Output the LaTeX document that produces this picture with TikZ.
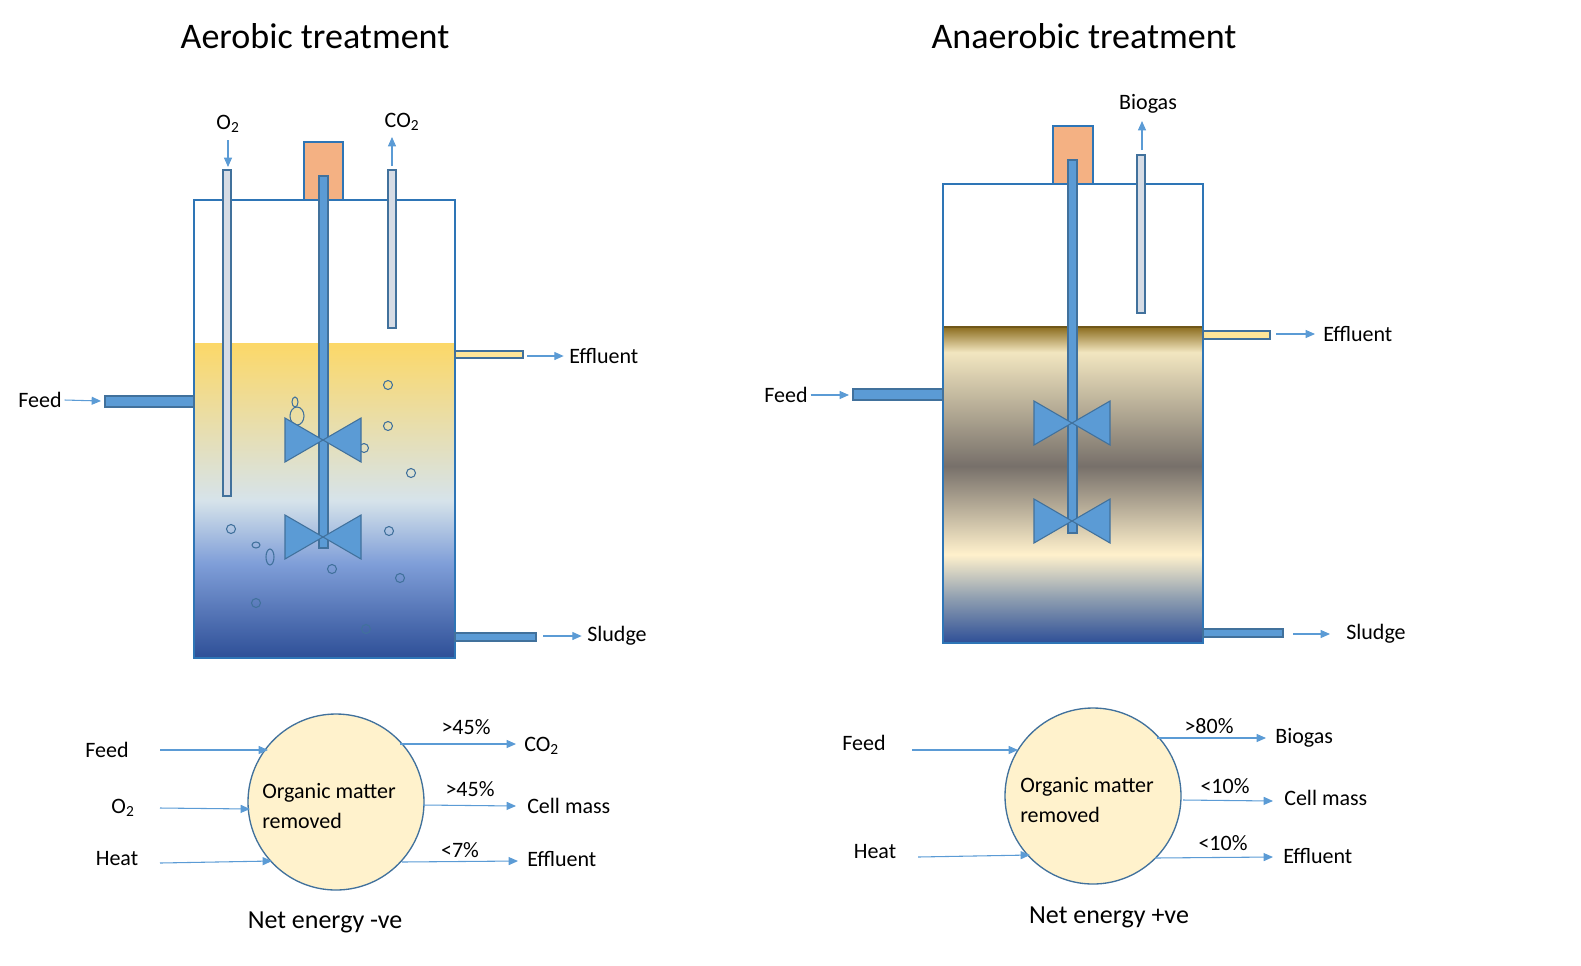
\documentclass[tikz,border=0pt]{standalone}
\usepackage{fontspec}
\setmainfont{Carlito}
\usetikzlibrary{arrows.meta}
\definecolor{pblue}{HTML}{5B9BD5}
\definecolor{dblue}{HTML}{2E75B6}
\definecolor{eblue}{HTML}{41719C}
\definecolor{motor}{HTML}{F4B183}
\definecolor{gpipe}{HTML}{D6DCE5}
\definecolor{ypipe}{HTML}{FFE699}
\definecolor{cream}{HTML}{FFF2CC}
\definecolor{aerT}{HTML}{FCD868}
\definecolor{aerM}{HTML}{D6E3EA}
\definecolor{aerL}{HTML}{7F9ED8}
\definecolor{aerB}{HTML}{2E4F97}
\definecolor{anT}{HTML}{8C6D1F}
\definecolor{anC}{HTML}{F2E6C0}
\definecolor{anG}{HTML}{77706A}
\definecolor{anC2}{HTML}{FFF1CC}
\definecolor{anS}{HTML}{8D9DB0}
\pgfdeclareverticalshading{aershade}{100bp}{color(0bp)=(aerB); color(25bp)=(aerB); color(40bp)=(aerL); color(50bp)=(aerM); color(75bp)=(aerT); color(100bp)=(aerT)}
\pgfdeclareverticalshading{anshade}{100bp}{color(0bp)=(aerB); color(25bp)=(aerB); color(32bp)=(anS); color(39bp)=(anC2); color(53bp)=(anG); color(71bp)=(anC); color(75bp)=(anT); color(100bp)=(anT)}
\tikzset{
  lbl/.style={font=\fontsize{16.5}{19}\selectfont, inner sep=0pt},
  ttl/.style={font=\fontsize{27}{32}\selectfont, inner sep=0pt},
  arr/.style={draw=pblue, line width=0.8pt, -{Triangle[length=7pt,width=6pt]}},
  tank/.style={draw=dblue, line width=1pt},
  shaft/.style={fill=pblue, draw=eblue, line width=0.8pt},
  motorbox/.style={fill=motor, draw=dblue, line width=0.8pt},
  gp/.style={fill=gpipe, draw=eblue, line width=0.8pt},
  yp/.style={fill=ypipe, draw=eblue, line width=0.8pt},
  bp/.style={fill=pblue, draw=eblue, line width=0.8pt},
  imp/.style={fill=pblue, draw=eblue, line width=0.8pt},
  bub/.style={draw=eblue, line width=0.8pt},
  circ/.style={circle, fill=cream, draw=eblue, line width=1pt, minimum size=176*0.75pt, inner sep=0pt},
}
\begin{document}
\begin{tikzpicture}[x=0.75pt,y=-0.75pt]
\useasboundingbox (0,0) rectangle (1581,965);
% titles
\node[ttl] (t1) at (315,36) {Aerobic treatment};
\node[ttl] (t2) at (1084,36) {Anaerobic treatment};
%% Aerobic tank
\fill[shading=aershade] (194,343) rectangle (455,658);
\draw[tank] (194,200) rectangle (455,658);
\draw[motorbox] (304,142) rectangle (343,200);
\draw[gp] (223,170) rectangle (231,496);
\draw[gp] (388,170) rectangle (396,328);
\draw[bub] (295,402) ellipse (3 and 5);
\draw[bub] (297,416) ellipse (7 and 9);
\foreach \c in {(388,385),(388,426),(364,448),(411,473),(231,529),(389,531),(301,544),(332,569),(400,578),(256,603),(366,629)} \draw[bub] \c circle (4.5);
\draw[bub] (256,545) ellipse (4 and 3);
\draw[bub] (270,557) ellipse (4 and 8);
\draw[shaft] (319,176) rectangle (328,548);
\foreach \yy in {440,537} {
  \draw[imp] (285,\yy-22) -- (323,\yy) -- (285,\yy+22) -- cycle;
  \draw[imp] (361,\yy-22) -- (323,\yy) -- (361,\yy+22) -- cycle;
}
\draw[bp] (105,396) rectangle (194,407);
\draw[yp] (455,351) rectangle (523,358);
\draw[bp] (455,633) rectangle (536,641);
\node[lbl] (o2a) at (228,124) {O\textsubscript{2}};
\coordinate (o2s) at (228,140); \coordinate (o2e) at (228,167);
\draw[arr] (o2s) -- (o2e);
\node[lbl] (co2a) at (402,122) {CO\textsubscript{2}};
\coordinate (co2s) at (392,166); \coordinate (co2e) at (392,137);
\draw[arr] (co2s) -- (co2e);
\node[lbl] (feeda) at (40,400) {Feed};
\draw[arr] (feeda.east) ++(2pt,0) -- (101,401);
\node[lbl,anchor=west] (effa) at (569,356) {Effluent};
\draw[arr] (527,356) -- ([xshift=-4pt]effa.west);
\node[lbl,anchor=west] (sluda) at (587,636) {Sludge};
\draw[arr] (543,636) -- ([xshift=-4pt]sluda.west);
%% Anaerobic tank
\fill[shading=anshade] (943,327) rectangle (1203,643);
\draw[anT!80!black, line width=1.5pt] (943,327) -- (1203,327);
\draw[tank] (943,184) rectangle (1203,643);
\draw[motorbox] (1053,126) rectangle (1093,184);
\draw[gp] (1137,155) rectangle (1145,313);
\draw[shaft] (1068,160) rectangle (1077,533);
\foreach \yy in {423,521} {
  \draw[imp] (1034,\yy-22) -- (1072,\yy) -- (1034,\yy+22) -- cycle;
  \draw[imp] (1110,\yy-22) -- (1072,\yy) -- (1110,\yy+22) -- cycle;
}
\draw[bp] (853,389) rectangle (943,400);
\draw[yp] (1203,331) rectangle (1270,339);
\draw[bp] (1203,629) rectangle (1283,637);
\node[lbl] (bga) at (1148,104) {Biogas};
\draw[arr] (1142,150) -- (1142,121);
\node[lbl] (feedb) at (786,395) {Feed};
\draw[arr] (feedb.east) ++(2pt,0) -- (849,395);
\node[lbl,anchor=west] (effb) at (1323,334) {Effluent};
\draw[arr] (1276,334) -- ([xshift=-6pt]effb.west);
\node[lbl,anchor=west] (sludb) at (1346,634) {Sludge};
\draw[arr] (1293,634) -- ([xshift=-12pt]sludb.west);
%% Aerobic balance
\node[circ] (ca) at (336,802) {};
\node[lbl, align=left, anchor=west] (cat) at (262,806) {Organic matter\\[3pt]removed};
\node[lbl] (fa) at (107,750) {Feed};
\node[lbl] (oa) at (123,808) {O\textsubscript{2}};
\node[lbl] (ha) at (117,859) {Heat};
\coordinate (fa1) at (160,750); \draw[arr] (fa1) -- (268,750);
\coordinate (oa1) at (160,808); \draw[arr] (oa1) -- (250,809);
\coordinate (ha1) at (160,863); \draw[arr] (ha1) -- (272,861);
\node[lbl,anchor=west] (oc) at (524,746) {CO\textsubscript{2}};
\node[lbl,anchor=west] (ocm) at (527,806) {Cell mass};
\node[lbl,anchor=west] (oe) at (527,859) {Effluent};
\draw[arr] (400,744) -- (516,744);
\draw[arr] (423,805) -- (516,806);
\draw[arr] (402,862) -- (518,861);
\node[lbl] (p1) at (466,727) {>45\%};
\node[lbl] (p2) at (470,789) {>45\%};
\node[lbl] (p3) at (460,850) {<7\%};
\node[lbl, font=\fontsize{19.5}{23}\selectfont] (nea) at (325,922) {Net energy -ve};
%% Anaerobic balance
\node[circ] (cb) at (1093,796) {};
\node[lbl, align=left, anchor=west] (cbt) at (1020,800) {Organic matter\\[3pt]removed};
\node[lbl] (fb) at (864,743) {Feed};
\node[lbl] (hb) at (875,852) {Heat};
\draw[arr] (912,750) -- (1018,750);
\draw[arr] (918,857) -- (1030,855);
\node[lbl,anchor=west] (ob) at (1275,738) {Biogas};
\node[lbl,anchor=west] (obm) at (1284,798) {Cell mass};
\node[lbl,anchor=west] (obe) at (1283,856) {Effluent};
\draw[arr] (1157,738) -- (1266,738);
\draw[arr] (1183,800) -- (1273,801);
\draw[arr] (1155,858) -- (1273,857);
\node[lbl] (q1) at (1209,726) {>80\%};
\node[lbl] (q2) at (1225,786) {<10\%};
\node[lbl] (q3) at (1223,843) {<10\%};
\node[lbl, font=\fontsize{19.5}{23}\selectfont] (neb) at (1109,917) {Net energy +ve};
\end{tikzpicture}
\end{document}
